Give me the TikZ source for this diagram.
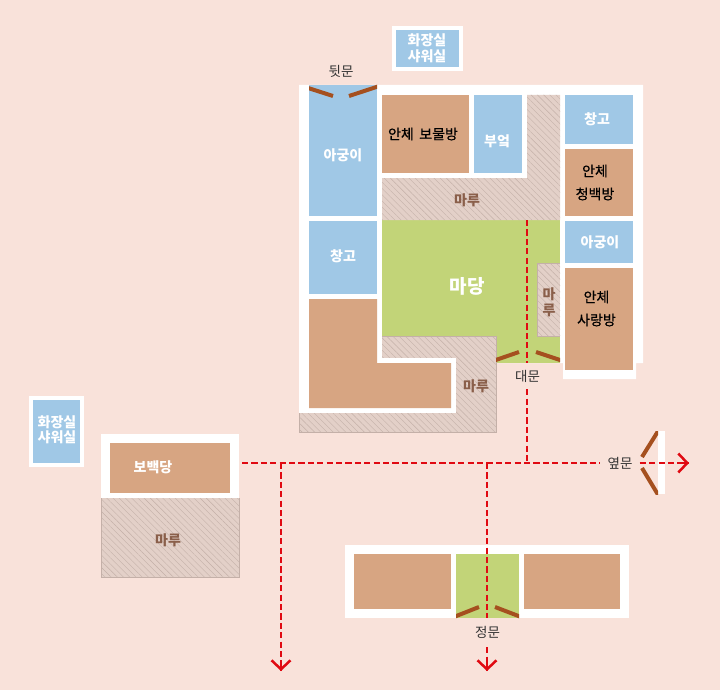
\documentclass[tikz,border=0pt]{standalone}
\usepackage{fontspec}
\setmainfont{Noto Sans CJK KR}
\newfontfamily\krmoyen[FakeBold=0.6]{Noto Sans CJK KR}
\usetikzlibrary{arrows.meta,patterns.meta}
\definecolor{fondcol}{HTML}{F9E2DA}
\definecolor{bleucol}{HTML}{A0C8E6}
\definecolor{tancol}{HTML}{D7A582}
\definecolor{vertcol}{HTML}{C2D478}
\definecolor{marucol}{HTML}{E3D0C8}
\definecolor{hatchcol}{HTML}{C4B0A8}
\definecolor{portecol}{HTML}{A5501F}
\definecolor{rougecol}{HTML}{E00A12}
\definecolor{bruncol}{HTML}{8A5F4A}
\tikzset{
  maru/.style={fill=marucol,
    postaction={pattern={Lines[angle=-45,distance=4.4pt,line width=0.4pt]},pattern color=hatchcol}},
  bord/.style={draw=hatchcol,line width=0.8pt},
  porte/.style={portecol,line width=4pt},
  parcours/.style={rougecol,line width=2pt,dash pattern=on 6.2pt off 3.2pt},
  fleche/.style={rougecol,line width=2.2pt,-{Straight Barb[length=9pt,width=19pt,line width=2.5pt]}},
  clair/.style={white,font=\bfseries\fontsize{14}{16}\selectfont,align=center,inner sep=0pt},
  sombre/.style={black,font=\krmoyen\fontsize{14}{23}\selectfont,align=center,inner sep=0pt},
  marutxt/.style={bruncol,font=\bfseries\fontsize{14}{15.5}\selectfont,align=center,inner sep=0pt},
  porttxt/.style={black!80,font=\fontsize{13.5}{15}\selectfont,inner sep=0pt,
    minimum width=39pt,minimum height=26pt},
}
\begin{document}
\begin{tikzpicture}[x=1pt,y=-1pt]
  \fill[fondcol] (0,0) rectangle (720,690);
  \useasboundingbox (0,0) rectangle (720,690);

  % les murs blancs
  \fill[white] (299,85) -- (643,85) -- (643,363) -- (636,363) -- (636,379) -- (563,379)
      -- (563,363) -- (456,363) -- (456,413) -- (299,413) -- cycle;
  \fill[white] (392,26) rectangle (463,71);
  \fill[white] (29,396) rectangle (84,467);
  \fill[white] (101,434) rectangle (239,498);
  \fill[white] (345,545) rectangle (629,618);
  \fill[white] (658,431) rectangle (665,494);

  % les pieces
  \foreach \xa/\ya/\xb/\yb in {396/30/459/67,309/85/377/216,474/95/522/173,565/95/633/144,
      565/221/633/263,309/221/377/294,33/400/80/463}
    \fill[bleucol] (\xa,\ya) rectangle (\xb,\yb);
  \foreach \xa/\ya/\xb/\yb in {382/95/469/173,565/149/633/216,565/268/633/370,
      110/443/230/493,354/554/451/609,524/554/620/609}
    \fill[tancol] (\xa,\ya) rectangle (\xb,\yb);
  \fill[vertcol] (382,220) rectangle (560,363);
  \fill[vertcol] (456,554) rectangle (519,618);

  % le maru
  \path[maru] (527,95) -- (560,95) -- (560,220) -- (382,220) -- (382,178) -- (527,178) -- cycle;
  \path[maru] (382,336) -- (496,336) -- (496,432) -- (299,432) -- (299,413) -- (456,413)
      -- (456,358) -- (382,358) -- cycle;
  \draw[bord] (382,336) -- (496,336) -- (496,432) -- (299,432) -- (299,413);
  \path[maru] (537,263) rectangle (560,336);
  \draw[bord] (560,263) -- (537,263) -- (537,336) -- (560,336);
  \path[maru] (101,498) rectangle (239,577);
  \draw[bord] (101,498) -- (101,577) -- (239,577) -- (239,498);
  \fill[white] (377,358) rectangle (456,363);
  \fill[tancol] (309,299) -- (377,299) -- (377,363) -- (451,363) -- (451,408) -- (309,408) -- cycle;

  % les portes
  \begin{scope}
    \clip (309,85) rectangle (377,110);
    \draw[porte] (305,87) -- (333,96) (381,85.5) -- (349,96);
  \end{scope}
  \begin{scope}
    \clip (496,340) rectangle (560,363);
    \draw[porte] (490,362) -- (519,352) (566,362) -- (536,352);
  \end{scope}
  \begin{scope}
    \clip (456,590) rectangle (519,618);
    \draw[porte] (450,618.5) -- (479,607) (525,618.5) -- (495,607);
  \end{scope}
  \begin{scope}
    \clip (630,431) rectangle (658,494);
    \draw[porte] (660,428) -- (642,457) (660,498) -- (642,468);
  \end{scope}

  % le parcours
  \node[porttxt] at (341,71) (dwitmun) {뒷문};
  \node[porttxt] at (527.5,376) (daemun) {대문};
  \node[porttxt] at (620,463.5) (yeopmun) {옆문};
  \node[porttxt,minimum height=29pt] at (487.5,632.5) (jeongmun) {정문};
  \coordinate (P1) at (527,220);
  \coordinate (P2) at (527,463);
  \coordinate (P3) at (242,463);
  \coordinate (P4) at (689,463);
  \coordinate (P5) at (281,463);
  \coordinate (P6) at (281,671);
  \coordinate (P7) at (487,463);
  \coordinate (P8) at (487,671);
  \draw[parcours] (P1) -- (daemun.north -| P1);
  \draw[parcours] (daemun.south -| P1) -- (P2);
  \draw[parcours] (P3) -- (yeopmun.west |- P3);
  \draw[parcours] (yeopmun.east |- P3) -- (P4);
  \draw[parcours] (P5) -- (P6);
  \draw[parcours] (P7) -- (jeongmun.north -| P7);
  \draw[parcours] (jeongmun.south -| P7) -- (P8);
  \draw[fleche] (680,463) -- (P4);
  \draw[fleche] (281,662) -- (P6);
  \draw[fleche] (487,662) -- (P8);

  % les textes
  \node[clair] at (427,48.5) (douchehaut) {화장실\\[-0.5pt]샤워실};
  \node[clair] at (57,430) (douchebas) {화장실\\[-0.5pt]샤워실};
  \node[clair] at (343,155) (agungi) {아궁이};
  \node[clair] at (497,141) (bueok) {부엌};
  \node[clair] at (597,119) (changgo) {창고};
  \node[clair] at (600,242) (agungid) {아궁이};
  \node[clair] at (343,256) (changgog) {창고};
  \node[clair] at (153,467) (bobaek) {보백당};
  \node[clair,font=\bfseries\fontsize{19}{20}\selectfont] at (467,286) (madang) {마당};
  \node[sombre] at (423,134) (bomul) {안체 \,보물방};
  \node[sombre] at (595,182.5) (cheongbaek) {안체\\청백방};
  \node[sombre] at (596.5,308.5) (sarang) {안체\\사랑방};
  \node[marutxt] at (467,200) (maruhaut) {마루};
  \node[marutxt] at (476,386) (marubas) {마루};
  \node[marutxt] at (549,302.5) (marudroit) {마\\루};
  \node[marutxt] at (168,540) (marugauche) {마루};
\end{tikzpicture}
\end{document}
